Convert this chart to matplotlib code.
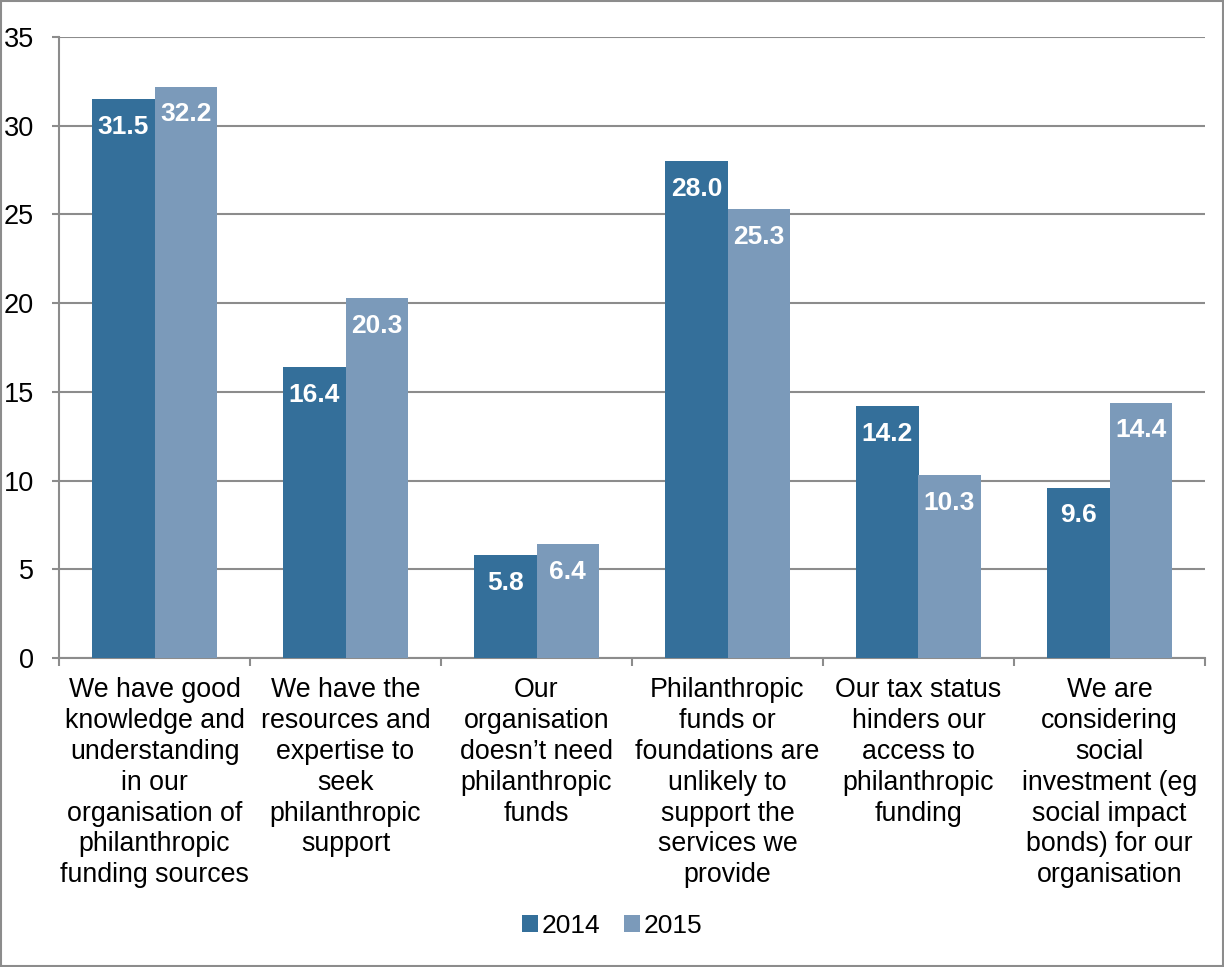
import matplotlib
matplotlib.use("Agg")
import matplotlib.pyplot as plt
import numpy as np
from matplotlib.patches import Rectangle

plt.rcParams['font.family'] = ['Liberation Sans', 'DejaVu Sans']

categories = [
    "We have good\nknowledge and\nunderstanding\nin our\norganisation of\nphilanthropic\nfunding sources",
    "We have the\nresources and\nexpertise to\nseek\nphilanthropic\nsupport",
    "Our\norganisation\ndoesn\u2019t need\nphilanthropic\nfunds",
    "Philanthropic\nfunds or\nfoundations are\nunlikely to\nsupport the\nservices we\nprovide",
    "Our tax status\nhinders our\naccess to\nphilanthropic\nfunding",
    "We are\nconsidering\nsocial\ninvestment (eg\nsocial impact\nbonds) for our\norganisation",
]
series_names = ["2014", "2015"]
values_2014 = [31.5, 16.4, 5.8, 28.0, 14.2, 9.6]
values_2015 = [32.2, 20.3, 6.4, 25.3, 10.3, 14.4]
yticks = [0, 5, 10, 15, 20, 25, 30, 35]

colors = ["#346f9a", "#7b9aba"]
grid_color = "#8c8c8c"

fig = plt.figure(figsize=(12.24, 9.67), dpi=100)
ax = fig.add_axes([59/1224, 1-658/967, (1205-59)/1224, (658-37)/967])

x = np.arange(len(categories))
w = 0.325
bars = []
for i, (vals, name) in enumerate(zip([values_2014, values_2015], series_names)):
    b = ax.bar(x + (i - 0.5) * w, vals, w, color=colors[i], label=name, zorder=3)
    bars.append(b)
    for rect, v in zip(b, vals):
        ax.annotate(f"{v:.1f}", (rect.get_x() + rect.get_width() / 2, v),
                    xytext=(0, -20), textcoords="offset points",
                    ha="center", va="center", color="white",
                    fontsize=19, fontweight="bold", zorder=4)

ax.set_xlim(-0.5, len(categories) - 0.5)
ax.set_ylim(0, 35)
ax.set_yticks(yticks)
ax.tick_params(axis="y", length=5, width=1.5, color=grid_color, pad=13, labelsize=19.5)
ax.yaxis.grid(True, color=grid_color, linewidth=1.5, zorder=0)

ax.set_xticks(x)
ax.set_xticklabels(categories, fontsize=19.3, linespacing=1.24)
ax.tick_params(axis="x", length=0, pad=14)
ax.set_xticks(np.arange(-0.5, len(categories) + 0.5, 1), minor=True)
ax.tick_params(axis="x", which="minor", length=6, width=1.5, color=grid_color)

for side in ["top", "right"]:
    ax.spines[side].set_visible(False)
for side in ["left", "bottom"]:
    ax.spines[side].set_color(grid_color)
    ax.spines[side].set_linewidth(1.5)

fig.legend(handles=bars, labels=series_names, loc="center", bbox_to_anchor=(0.5, 1-926/967),
           ncol=2, frameon=False, fontsize=19, handlelength=0.6, handleheight=0.6,
           handletextpad=0.15, columnspacing=0.9)

fig.patches.append(Rectangle((0.001, 0.001), 0.998, 0.998, transform=fig.transFigure,
                             fill=False, edgecolor=grid_color, linewidth=1.5))

fig.savefig("out.png", dpi=100)
